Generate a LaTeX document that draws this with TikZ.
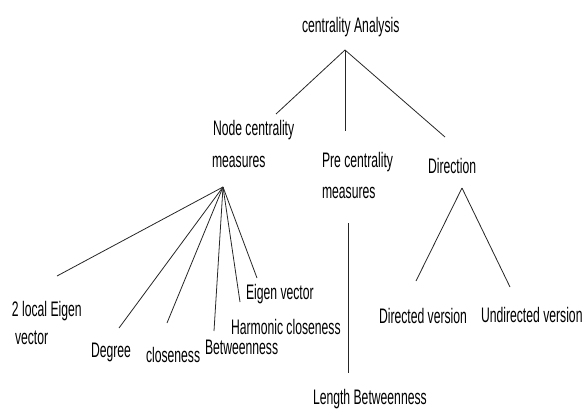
\documentclass[tikz,border=0pt]{standalone}
\usepackage{fontspec}
\setmainfont{Liberation Sans}[FakeStretch=0.58]
\begin{document}
\begin{tikzpicture}[x=1pt,y=-1pt,
  lbl/.style={anchor=base west,inner sep=0pt,outer sep=0pt,font=\fontsize{21}{31}\selectfont,text=black},
  conn/.style={draw=black!85,line width=0.8pt}]
\useasboundingbox (0,0) rectangle (583,410);
% labels
\node[lbl] (ca) at (302,32) {centrality Analysis};
\node[lbl] (nc1) at (213,135) {Node centrality};
\node[lbl] (nc2) at (212,167) {measures};
\node[lbl] (pc1) at (322,167) {Pre centrality};
\node[lbl] (pc2) at (322,198) {measures};
\node[lbl] (dir) at (428,173) {Direction};
\node[lbl] (dv) at (379,323) {Directed version};
\node[lbl] (uv) at (481,322) {Undirected version};
\node[lbl] (lb) at (313,404) {Length Betweenness};
\node[lbl] (le1) at (12,316) {2 local Eigen};
\node[lbl] (le2) at (15,344) {vector};
\node[lbl] (deg) at (91,357) {Degree};
\node[lbl] (clo) at (146,362) {closeness};
\node[lbl] (bet) at (205,354) {Betweenness};
\node[lbl] (har) at (231,334) {Harmonic closeness};
\node[lbl] (eig) at (246,299) {Eigen vector};
% connector points
\coordinate (A) at (345,50);
\coordinate (Anc) at (276,114);
\coordinate (Apc) at (345,131);
\coordinate (Adir) at (445,137);
\coordinate (F) at (223,187);
\coordinate (Fle) at (57,276);
\coordinate (Fdeg) at (119,328);
\coordinate (Fclo) at (167,323);
\coordinate (Fbet) at (214,331);
\coordinate (Fhar) at (240,302);
\coordinate (Feig) at (257,278);
\coordinate (D) at (462,188);
\coordinate (Ddv) at (416,281);
\coordinate (Duv) at (510,287);
\coordinate (P1) at (348,223);
\coordinate (P2) at (348,373);
% connectors
\draw[conn] (A) -- (Anc);
\draw[conn] (A) -- (Apc);
\draw[conn] (A) -- (Adir);
\draw[conn] (F) -- (Fle);
\draw[conn] (F) -- (Fdeg);
\draw[conn] (F) -- (Fclo);
\draw[conn] (F) -- (Fbet);
\draw[conn] (F) -- (Fhar);
\draw[conn] (F) -- (Feig);
\draw[conn] (D) -- (Ddv);
\draw[conn] (D) -- (Duv);
\draw[conn] (P1) -- (P2);
\end{tikzpicture}
\end{document}
